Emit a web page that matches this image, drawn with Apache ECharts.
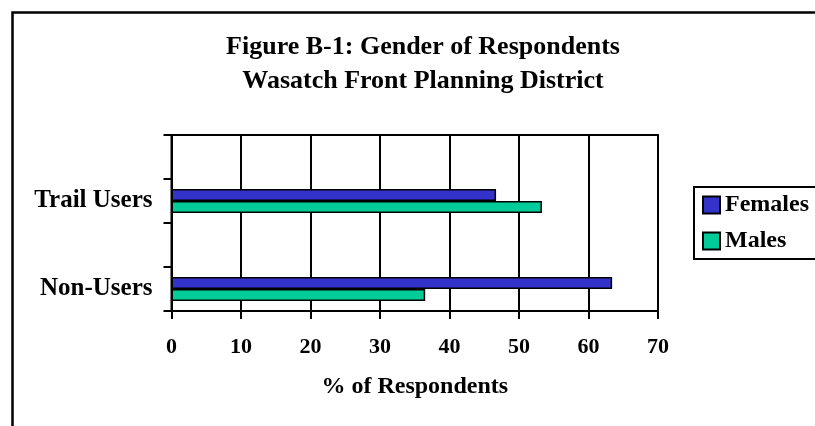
<!DOCTYPE html>
<html>
<head>
<meta charset="utf-8">
<script src="https://cdn.jsdelivr.net/npm/echarts@6/dist/echarts.min.js"></script>
<style>html,body{margin:0;padding:0;background:#fff}#c{width:815px;height:426px}</style>
</head>
<body>
<div id="c"></div>
<script>
var categories = ["Trail Users", "Non-Users"];
var females = [46.7, 63.4];
var males = [53.3, 36.5];
var xTicks = [0, 10, 20, 30, 40, 50, 60, 70];
var seriesNames = ["Females", "Males"];

// each category sits in the lower of two equal bands (as in the original)
var axisData = [];
var fData = [];
var mData = [];
categories.forEach(function (c, i) {
  axisData.push(""); fData.push("-"); mData.push("-");
  axisData.push(c); fData.push(females[i]); mData.push(males[i]);
});

var font = "'Liberation Serif', 'Times New Roman', serif";
var chart = echarts.init(document.getElementById('c'), null, {renderer: 'canvas'});
chart.setOption({
  animation: false,
  backgroundColor: '#fff',
  title: {
    text: "Figure B-1: Gender of Respondents\nWasatch Front Planning District",
    left: 418, top: 25, textAlign: 'center',
    textStyle: {fontFamily: font, fontWeight: 'bold', fontSize: 26, lineHeight: 34, color: '#000'}
  },
  graphic: [{
    type: 'rect', left: 10, top: 10, silent: true,
    shape: {width: 900, height: 500},
    style: {fill: 'none', stroke: '#000', lineWidth: 2.5}
  }],
  legend: {
    orient: 'vertical', left: 694, top: 187,
    data: seriesNames,
    borderColor: '#000', borderWidth: 2, borderRadius: 0,
    padding: [6, 40, 6, 8],
    itemWidth: 17, itemHeight: 17, itemGap: 12,
    icon: 'rect',
    textStyle: {fontFamily: font, fontWeight: 'bold', fontSize: 24, color: '#000'}
  },
  grid: {left: 171.5, right: 157, top: 135, bottom: 115, show: true, borderColor: '#000', borderWidth: 2, backgroundColor: 'transparent'},
  xAxis: {
    type: 'value', min: xTicks[0], max: xTicks[xTicks.length - 1], interval: 10,
    name: '% of Respondents', nameLocation: 'middle', nameGap: 64,
    nameTextStyle: {fontFamily: font, fontWeight: 'bold', fontSize: 24, color: '#000'},
    axisLine: {show: true, lineStyle: {color: '#000', width: 2}},
    axisTick: {show: true, length: 8, lineStyle: {color: '#000', width: 2}},
    axisLabel: {fontFamily: font, fontWeight: 'bold', fontSize: 22, color: '#000', margin: 25},
    splitLine: {show: true, lineStyle: {color: '#000', width: 2}}
  },
  yAxis: {
    type: 'category', inverse: true, data: axisData,
    axisLine: {show: true, lineStyle: {color: '#000', width: 2}},
    axisTick: {show: true, length: 8, lineStyle: {color: '#000', width: 2}},
    axisLabel: {fontFamily: font, fontWeight: 'bold', fontSize: 25, color: '#000', margin: 19},
    splitLine: {show: false}
  },
  series: [
    {name: seriesNames[0], type: 'bar', data: fData, barWidth: 12, barGap: '0%',
     itemStyle: {color: '#3333CC', borderColor: '#000', borderWidth: 1.5}},
    {name: seriesNames[1], type: 'bar', data: mData, barWidth: 12, barGap: '0%',
     itemStyle: {color: '#00CC99', borderColor: '#000', borderWidth: 1.5}}
  ]
});
</script>
</body>
</html>
